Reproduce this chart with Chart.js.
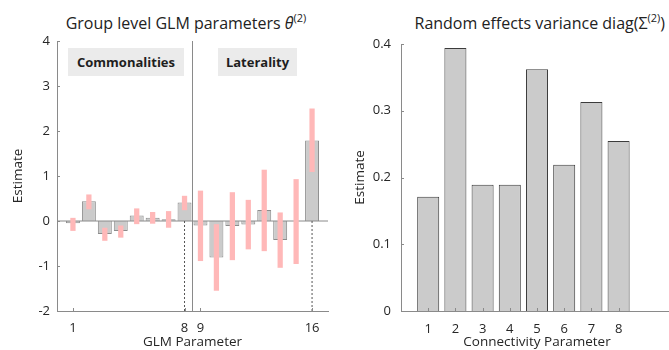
<!DOCTYPE html>
<html>
<head>
<meta charset="utf-8">
<script src="https://cdn.jsdelivr.net/npm/chart.js@4"></script>
<style>
  body { margin: 0; width: 669px; height: 350px; overflow: hidden; background: #fff; position: relative; font-family: "Open Sans", sans-serif; }
  .panel { position: absolute; top: 0; height: 350px; }
  .title { position: absolute; top: 9px; line-height: 28px; font-size: 16px; color: #222; white-space: nowrap; }
  .title sup { font-size: 11px; vertical-align: 7px; line-height: 0; }
  .tag { position: absolute; top: 48px; height: 28px; line-height: 28px; background: #ebebeb; font-weight: bold; font-size: 13px; text-align: center; color: #1e1e1e; }
</style>
</head>
<body>
<div class="title" style="left:0;width:372px;text-align:center">Group level GLM parameters <i>θ</i><sup>(2)</sup></div>
<div class="title" style="left:365px;width:300px;text-align:right">Random effects variance diag(Σ<sup>(2)</sup>)</div>

<div class="panel" style="left:0;width:340px"><canvas id="glmChart"></canvas></div>
<div class="panel" style="left:340px;width:333px"><canvas id="varChart"></canvas></div>

<div class="tag" style="left:68px;width:116px">Commonalities</div>
<div class="tag" style="left:218px;width:79px">Laterality</div>

<script>
  // left panel: group level GLM parameters
  const glmParams = [1, 2, 3, 4, 5, 6, 7, 8, 9, 10, 11, 12, 13, 14, 15, 16];
  const glmEstimate = [-0.05, 0.44, -0.29, -0.22, 0.12, 0.075, 0.04, 0.41, -0.1, -0.81, -0.11, -0.08, 0.245, -0.42, 0.0, 1.79];
  const glmLow = [-0.22, 0.26, -0.44, -0.37, -0.07, -0.06, -0.15, 0.24, -0.89, -1.55, -0.87, -0.63, -0.67, -1.04, -0.955, 1.09];
  const glmHigh = [0.07, 0.59, -0.15, -0.10, 0.28, 0.20, 0.22, 0.56, 0.675, -0.07, 0.64, 0.47, 1.14, 0.19, 0.93, 2.5];
  const glmTicks = [1, 8, 9, 16];

  // right panel: random effects variance
  const connParams = [1, 2, 3, 4, 5, 6, 7, 8];
  const varianceEst = [0.171, 0.394, 0.189, 0.189, 0.362, 0.219, 0.313, 0.2545];

  const axisGray = '#8a8a8a';
  Chart.defaults.font.family = '"Open Sans", sans-serif';
  Chart.defaults.color = '#262626';

  // matlab style ticks pointing into the plot
  const inwardTicks = {
    id: 'inwardTicks',
    afterDraw(chart) {
      const { ctx, chartArea, scales } = chart;
      ctx.save();
      ctx.strokeStyle = axisGray;
      ctx.lineWidth = 1;
      ctx.beginPath();
      scales.y.ticks.forEach(t => {
        const py = Math.round(scales.y.getPixelForValue(t.value)) + 0.5;
        ctx.moveTo(chartArea.left, py);
        ctx.lineTo(chartArea.left + 3, py);
      });
      scales.x.ticks.forEach(t => {
        const px = Math.round(scales.x.getPixelForValue(t.value)) + 0.5;
        ctx.moveTo(px, chartArea.bottom);
        ctx.lineTo(px, chartArea.bottom - 3);
      });
      ctx.stroke();
      ctx.restore();
    }
  };

  function refLine(points, color, dash, order) {
    return {
      type: 'line',
      data: points,
      borderColor: color,
      borderWidth: 1,
      borderDash: dash,
      pointRadius: 0,
      fill: false,
      order: order
    };
  }

  const glmXMin = 0, glmXMax = 17, glmYMin = -2, glmYMax = 4;
  const lastCommon = 8;

  new Chart(document.getElementById('glmChart'), {
    type: 'bar',
    data: {
      datasets: [
        {
          data: glmParams.map((p, i) => ({ x: p, y: glmEstimate[i] })),
          backgroundColor: '#cbcbcb',
          borderColor: '#8c8c8c',
          borderWidth: 1,
          borderSkipped: 'start',
          grouped: false,
          categoryPercentage: 1,
          barPercentage: 0.875,
          order: 4
        },
        {
          data: glmParams.map((p, i) => ({ x: p, y: [glmLow[i], glmHigh[i]] })),
          backgroundColor: '#ffb8b8',
          borderWidth: 0,
          grouped: false,
          categoryPercentage: 1,
          barPercentage: 0.33,
          order: 2
        },
        refLine([{ x: glmXMin, y: 0 }, { x: glmXMax, y: 0 }], axisGray, [], 3),
        refLine([{ x: lastCommon + 0.5, y: glmYMin }, { x: lastCommon + 0.5, y: glmYMax }], axisGray, [], 1),
        refLine([{ x: lastCommon, y: 0 }, { x: lastCommon, y: glmYMin }], '#555', [2, 2], 1),
        refLine([{ x: glmParams[glmParams.length - 1], y: 0 }, { x: glmParams[glmParams.length - 1], y: glmYMin }], '#555', [2, 2], 1)
      ]
    },
    options: {
      responsive: true,
      maintainAspectRatio: false,
      animation: false,
      layout: { padding: { top: 41, right: 12, left: 0, bottom: 0 } },
      plugins: { legend: { display: false }, tooltip: { enabled: false } },
      scales: {
        x: {
          type: 'linear',
          min: glmXMin,
          max: glmXMax,
          offset: false,
          grid: { display: false, drawTicks: false },
          border: { color: axisGray },
          ticks: { font: { size: 13 }, padding: 9, maxRotation: 0 },
          afterBuildTicks: s => { s.ticks = glmTicks.map(v => ({ value: v })); },
          afterFit: s => { s.height = 39; },
          title: { display: true, text: 'GLM Parameter', font: { size: 13.5 }, padding: { top: 0, bottom: 0 } }
        },
        y: {
          min: glmYMin,
          max: glmYMax,
          grid: { display: false, drawTicks: false },
          border: { color: axisGray },
          ticks: { stepSize: 1, font: { size: 13 }, padding: 7 },
          afterFit: s => { s.width = 57; },
          title: { display: true, text: 'Estimate', font: { size: 13.5 }, padding: { top: 10, bottom: 0 } }
        }
      }
    },
    plugins: [inwardTicks]
  });

  new Chart(document.getElementById('varChart'), {
    type: 'bar',
    data: {
      datasets: [
        {
          data: connParams.map((p, i) => ({ x: p, y: varianceEst[i] })),
          backgroundColor: '#cbcbcb',
          borderColor: '#3c3c3c',
          borderWidth: 1,
          borderSkipped: 'start',
          categoryPercentage: 1,
          barPercentage: 0.81
        }
      ]
    },
    options: {
      responsive: true,
      maintainAspectRatio: false,
      animation: false,
      layout: { padding: { top: 44, right: 0, left: 0, bottom: 0 } },
      plugins: { legend: { display: false }, tooltip: { enabled: false } },
      scales: {
        x: {
          type: 'linear',
          min: 0,
          max: 10,
          offset: false,
          grid: { display: false, drawTicks: false },
          border: { color: axisGray },
          ticks: { font: { size: 13 }, padding: 10, maxRotation: 0 },
          afterBuildTicks: s => { s.ticks = connParams.map(v => ({ value: v })); },
          afterFit: s => { s.height = 39; },
          title: { display: true, text: 'Connectivity Parameter', font: { size: 13.5 }, padding: { top: 0, bottom: 0 } }
        },
        y: {
          min: 0,
          max: 0.4,
          grid: { display: false, drawTicks: false },
          border: { color: axisGray },
          ticks: { stepSize: 0.1, font: { size: 13 }, padding: 10 },
          afterFit: s => { s.width = 61; },
          title: { display: true, text: 'Estimate', font: { size: 13.5 }, padding: { top: 12, bottom: 0 } }
        }
      }
    },
    plugins: [inwardTicks]
  });
</script>
</body>
</html>
